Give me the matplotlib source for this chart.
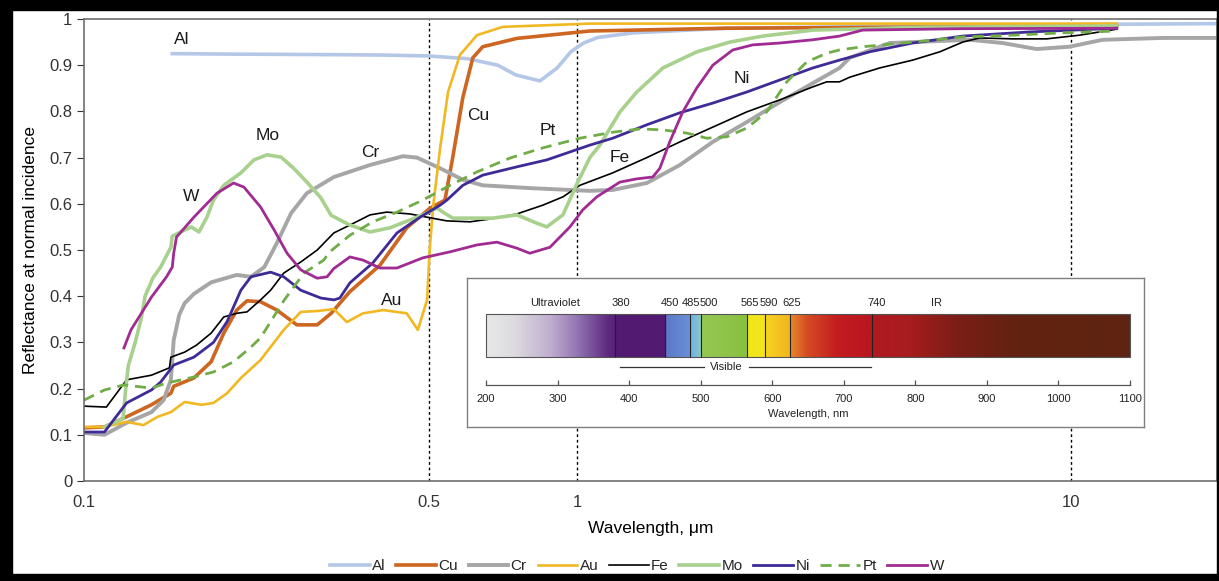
import numpy as np
import matplotlib
matplotlib.use('Agg')
import matplotlib.pyplot as plt
from matplotlib.colors import LinearSegmentedColormap
from matplotlib.patches import Rectangle

plt.rcParams['font.family'] = ['Liberation Sans', 'DejaVu Sans']

# reflectance at normal incidence vs wavelength (um)
wl_al = [0.151, 0.2, 0.3, 0.4, 0.5, 0.6, 0.69, 0.75, 0.84, 0.91, 0.97, 1.03, 1.1, 1.3, 2.0, 5.0, 10, 20]
r_al = [0.925, 0.924, 0.923, 0.922, 0.92, 0.914, 0.90, 0.879, 0.866, 0.894, 0.929, 0.948, 0.96, 0.97, 0.98, 0.985, 0.988, 0.99]

wl_cu = [0.1, 0.11, 0.122, 0.137, 0.15, 0.152, 0.167, 0.181, 0.192, 0.204, 0.214, 0.228, 0.246, 0.27, 0.297,
         0.317, 0.346, 0.398, 0.451, 0.502, 0.539, 0.559, 0.586, 0.614, 0.643, 0.754, 1.06, 2.0, 12.4]
r_cu = [0.115, 0.117, 0.139, 0.165, 0.19, 0.205, 0.223, 0.258, 0.32, 0.37, 0.39, 0.388, 0.37, 0.338, 0.338,
        0.363, 0.41, 0.467, 0.548, 0.59, 0.608, 0.70, 0.83, 0.916, 0.94, 0.958, 0.974, 0.98, 0.985]

wl_cr = [0.1, 0.11, 0.122, 0.137, 0.145, 0.15, 0.152, 0.156, 0.16, 0.167, 0.181, 0.204, 0.218, 0.232, 0.246,
         0.263, 0.283, 0.321, 0.38, 0.443, 0.473, 0.527, 0.586, 0.643, 0.801, 1.06, 1.18, 1.383, 1.614, 1.882,
         2.206, 2.573, 3.0, 3.4, 3.566, 4.297, 6.243, 7.28, 8.53, 9.95, 11.61, 15.36, 19.8]
r_cr = [0.104, 0.1, 0.126, 0.149, 0.175, 0.219, 0.305, 0.36, 0.385, 0.405, 0.43, 0.446, 0.442, 0.463, 0.515,
        0.58, 0.623, 0.658, 0.684, 0.703, 0.70, 0.677, 0.652, 0.64, 0.634, 0.628, 0.63, 0.645, 0.684, 0.734,
        0.777, 0.82, 0.861, 0.894, 0.916, 0.948, 0.955, 0.948, 0.935, 0.94, 0.955, 0.959, 0.959]

wl_au = [0.1, 0.11, 0.122, 0.132, 0.141, 0.15, 0.16, 0.173, 0.183, 0.195, 0.208, 0.228, 0.254, 0.275, 0.297,
         0.321, 0.341, 0.368, 0.404, 0.451, 0.475, 0.496, 0.502, 0.51, 0.527, 0.547, 0.578, 0.626, 0.706, 1.06, 12.4]
r_au = [0.117, 0.117, 0.128, 0.121, 0.139, 0.149, 0.171, 0.165, 0.169, 0.19, 0.223, 0.262, 0.327, 0.366, 0.368,
        0.372, 0.344, 0.363, 0.37, 0.363, 0.327, 0.392, 0.5, 0.593, 0.72, 0.842, 0.922, 0.965, 0.983, 0.99, 0.99]

wl_fe = [0.1, 0.111, 0.122, 0.137, 0.149, 0.150, 0.160, 0.169, 0.181, 0.192, 0.204, 0.214, 0.228, 0.239, 0.254,
         0.275, 0.297, 0.321, 0.346, 0.38, 0.411, 0.458, 0.496, 0.544, 0.606, 0.665, 0.754, 0.851, 0.935, 1.012,
         1.18, 1.383, 1.614, 1.882, 2.206, 2.573, 3.0, 3.203, 3.40, 3.566, 4.10, 4.784, 5.43, 6.04, 6.54, 7.63,
         8.94, 10.43, 12.4]
r_fe = [0.162, 0.16, 0.219, 0.229, 0.245, 0.268, 0.279, 0.294, 0.32, 0.355, 0.363, 0.366, 0.392, 0.413, 0.45,
        0.474, 0.5, 0.537, 0.554, 0.576, 0.582, 0.578, 0.571, 0.563, 0.561, 0.567, 0.578, 0.597, 0.615, 0.64,
        0.667, 0.70, 0.734, 0.766, 0.799, 0.825, 0.853, 0.864, 0.864, 0.874, 0.894, 0.911, 0.929, 0.95, 0.959,
        0.957, 0.957, 0.965, 0.978]

wl_mo = [0.11, 0.12, 0.1215, 0.123, 0.127, 0.1305, 0.133, 0.138, 0.143, 0.150, 0.151, 0.160, 0.165, 0.171,
         0.1775, 0.183, 0.192, 0.208, 0.221, 0.235, 0.251, 0.266, 0.283, 0.302, 0.317, 0.346, 0.38, 0.417, 0.458,
         0.496, 0.519, 0.534, 0.559, 0.614, 0.674, 0.754, 0.828, 0.867, 0.935, 0.995, 1.06, 1.111, 1.22, 1.32,
         1.491, 1.747, 2.037, 2.376, 3.0, 5.0, 12.4]
r_mo = [0.117, 0.135, 0.2, 0.25, 0.30, 0.35, 0.40, 0.44, 0.463, 0.506, 0.53, 0.543, 0.55, 0.539,
        0.571, 0.608, 0.64, 0.667, 0.695, 0.706, 0.701, 0.677, 0.647, 0.613, 0.575, 0.554, 0.539, 0.548, 0.565,
        0.58, 0.591, 0.582, 0.569, 0.569, 0.569, 0.576, 0.558, 0.55, 0.576, 0.64, 0.70, 0.727, 0.799, 0.842,
        0.894, 0.929, 0.95, 0.963, 0.976, 0.982, 0.985]

wl_ni = [0.1, 0.11, 0.122, 0.137, 0.143, 0.152, 0.167, 0.183, 0.195, 0.208, 0.218, 0.239, 0.254, 0.275, 0.302,
         0.321, 0.33, 0.346, 0.385, 0.431, 0.48, 0.527, 0.544, 0.586, 0.643, 0.754, 0.867, 1.06, 1.18, 1.383,
         1.614, 1.882, 2.206, 2.573, 3.0, 3.4, 3.914, 4.784, 6.04, 8.26, 12.4]
r_ni = [0.106, 0.106, 0.169, 0.197, 0.214, 0.251, 0.268, 0.30, 0.345, 0.413, 0.442, 0.452, 0.442, 0.413, 0.396,
        0.392, 0.396, 0.429, 0.472, 0.537, 0.571, 0.597, 0.608, 0.64, 0.662, 0.68, 0.695, 0.727, 0.742, 0.771,
        0.797, 0.818, 0.842, 0.868, 0.894, 0.911, 0.929, 0.948, 0.963, 0.972, 0.98]

wl_pt = [0.1, 0.11, 0.1205, 0.137, 0.147, 0.167, 0.183, 0.201, 0.218, 0.228, 0.239, 0.254, 0.279, 0.306, 0.315,
         0.346, 0.385, 0.431, 0.486, 0.552, 0.626, 0.73, 0.851, 1.012, 1.18, 1.339, 1.491, 1.667, 1.83, 2.009,
         2.206, 2.421, 2.658, 2.917, 3.203, 3.4, 3.79, 4.784, 6.04, 7.63, 9.63, 12.4]
r_pt = [0.175, 0.197, 0.208, 0.201, 0.212, 0.225, 0.236, 0.258, 0.29, 0.31, 0.345, 0.39, 0.45, 0.478, 0.496,
        0.532, 0.561, 0.582, 0.608, 0.64, 0.669, 0.699, 0.721, 0.742, 0.755, 0.762, 0.76, 0.753, 0.742, 0.745,
        0.764, 0.799, 0.864, 0.907, 0.926, 0.933, 0.94, 0.95, 0.961, 0.965, 0.97, 0.974]

wl_w = [0.1205, 0.1245, 0.137, 0.147, 0.151, 0.152, 0.154, 0.167, 0.186, 0.201, 0.211, 0.228, 0.243, 0.258,
        0.275, 0.297, 0.311, 0.321, 0.346, 0.368, 0.398, 0.431, 0.486, 0.552, 0.626, 0.687, 0.754, 0.801, 0.88,
        0.966, 1.026, 1.095, 1.22, 1.32, 1.422, 1.47, 1.539, 1.636, 1.747, 1.882, 2.066, 2.268, 2.573, 3.0, 3.4,
        3.79, 6.0, 12.4]
r_w = [0.288, 0.327, 0.398, 0.442, 0.463, 0.493, 0.528, 0.571, 0.623, 0.645, 0.636, 0.593, 0.543, 0.493,
       0.457, 0.439, 0.442, 0.46, 0.485, 0.478, 0.461, 0.461, 0.483, 0.496, 0.511, 0.517, 0.504, 0.493, 0.506,
       0.55, 0.587, 0.615, 0.647, 0.654, 0.658, 0.677, 0.734, 0.799, 0.851, 0.90, 0.933, 0.944, 0.948, 0.955,
       0.963, 0.976, 0.979, 0.98]

metals = ['Al', 'Cu', 'Cr', 'Au', 'Fe', 'Mo', 'Ni', 'Pt', 'W']

# curve labels inside the plot: (text, wavelength, reflectance)
curve_labels = [('Al', 0.158, 0.955), ('Mo', 0.236, 0.747), ('Cr', 0.38, 0.712), ('W', 0.165, 0.615),
                ('Cu', 0.63, 0.792), ('Pt', 0.87, 0.758), ('Fe', 1.22, 0.70), ('Ni', 2.15, 0.872),
                ('Au', 0.42, 0.39)]

# spectrum inset
band_edges = [380, 450, 485, 500, 565, 590, 625, 740]
band_text = ['380', '450', '485', '500', '565', '590', '625', '740']
nm_ticks = [200, 300, 400, 500, 600, 700, 800, 900, 1000, 1100]

fig = plt.figure(figsize=(12.19, 5.81), dpi=100)
ax = fig.add_axes([84 / 1219, 100 / 581, 1133 / 1219, 462 / 581])

series = [(wl_al, r_al, '#b4c7e7', 2.6, '-'),
          (wl_cu, r_cu, '#cc6620', 2.6, '-'),
          (wl_cr, r_cr, '#a6a6a6', 2.8, '-'),
          (wl_au, r_au, '#f0b823', 1.9, '-'),
          (wl_fe, r_fe, '#000000', 1.2, '-'),
          (wl_mo, r_mo, '#a9d18e', 2.6, '-'),
          (wl_ni, r_ni, '#3f2a96', 2.0, '-'),
          (wl_pt, r_pt, '#70ad47', 2.0, (0, (4, 2.5))),
          (wl_w, r_w, '#a02b93', 2.0, '-')]
handles = []
for (wl, r, c, lw, ls), name in zip(series, metals):
    h, = ax.plot(wl, r, color=c, lw=lw, ls=ls, label=name, solid_joinstyle='round')
    handles.append(h)

for xv in [0.5, 1, 10]:
    ax.axvline(xv, color='black', lw=1, ls=(0, (2, 2)), zorder=0.5)

for t, x, y in curve_labels:
    ax.text(x, y, t, fontsize=12.5, ha='center', va='center', color='#1a1a1a')

ax.set_xscale('log')
ax.set_xlim(0.1, 19.8)
ax.set_ylim(0, 1)
ax.set_xticks([0.1, 0.5, 1, 10])
ax.set_xticklabels(['0.1', '0.5', '1', '10'])
ax.xaxis.set_minor_locator(matplotlib.ticker.NullLocator())
yt = np.round(np.arange(0, 1.01, 0.1), 1)
ax.set_yticks(yt)
ax.set_yticklabels(['0', '0.1', '0.2', '0.3', '0.4', '0.5', '0.6', '0.7', '0.8', '0.9', '1'])
ax.tick_params(axis='x', length=0, pad=10, labelsize=12, colors='#333333')
ax.tick_params(axis='y', length=5, direction='out', labelsize=12, colors='#333333')
for sp in ax.spines.values():
    sp.set_color('#6e6e6e')
    sp.set_linewidth(1.2)
ax.set_xlabel('Wavelength, \u03bcm', fontsize=12.5, labelpad=8)
ax.set_ylabel('Reflectance at normal incidence', fontsize=12.5, labelpad=8)

# inset with the spectrum bar
ins = fig.add_axes([467 / 1219, 154 / 581, 677 / 1219, 149 / 581], zorder=5)
ins.set_facecolor('white')
ins.set_xlim(173.4, 1119.6)
ins.set_ylim(0, 149)
ins.set_xticks([])
ins.set_yticks([])
for sp in ins.spines.values():
    sp.set_color('#7f7f7f')
    sp.set_linewidth(1)

stops = [(200, '#e8e8e8'), (240, '#dddadf'), (290, '#c0aed0'), (330, '#9070b0'), (370, '#5e2a80'),
         (380, '#58207a'), (380, '#521a70'), (450, '#531b72'), (452, '#5c78c8'), (485, '#6a90d4'),
         (485, '#6cb2e4'), (500, '#8ac6c8'), (500, '#96c854'), (565, '#88c040'), (565, '#f0e41a'),
         (590, '#f4e61c'), (590, '#f6d420'), (625, '#f2b420'), (625, '#e88a2a'), (650, '#d44a24'),
         (690, '#c41c20'), (740, '#b81620'), (740, '#b01a22'), (790, '#a81c1e'), (860, '#7a1e16'),
         (940, '#62220f'), (1100, '#5f2512')]
cmap = LinearSegmentedColormap.from_list('spec', [((p - 200) / 900, c) for p, c in stops], N=1024)
grad = np.linspace(0, 1, 1024).reshape(1, -1)
ins.imshow(grad, cmap=cmap, extent=(200, 1100, 70, 113), aspect='auto', interpolation='bilinear')
ins.add_patch(Rectangle((200, 70), 900, 43, fill=False, ec='#555555', lw=0.8))
ins.vlines(band_edges, 70, 113, color='#222222', lw=0.8)

txt_x = [388, 457, 487, 512, 569, 595, 627, 746]
for t, x in zip(band_text, txt_x):
    ins.text(x, 124, t, fontsize=8, ha='center', va='center', color='#222222')
ins.text(296, 124, 'Ultraviolet', fontsize=8, ha='center', va='center', color='#222222')
ins.text(830, 124, 'IR', fontsize=8, ha='center', va='center', color='#222222')

ins.plot([387, 505], [60, 60], color='#333333', lw=0.9)
ins.plot([568, 738], [60, 60], color='#333333', lw=0.9)
ins.text(536, 60, 'Visible', fontsize=8, ha='center', va='center', color='#222222')

ins.plot([200, 1100], [42, 42], color='#555555', lw=0.9)
ins.vlines(nm_ticks, 42, 47, color='#555555', lw=0.9)
for v in nm_ticks:
    ins.text(v, 28, str(v), fontsize=8, ha='center', va='center', color='#222222')
ins.text(650, 13, 'Wavelength, nm', fontsize=8, ha='center', va='center', color='#222222')

fig.legend(handles=handles, labels=metals, loc='center', bbox_to_anchor=(637 / 1219, 15 / 581),
           ncol=9, frameon=False, handlelength=2.6, columnspacing=0.7,
           handletextpad=0.15, labelcolor='#262626', fontsize=11)

# black frame around the picture
for rect in [(0, 0, 1, 7 / 581), (0, 1 - 10 / 581, 1, 10 / 581), (0, 0, 12 / 1219, 1),
             (1 - 2 / 1219, 0, 2 / 1219, 1)]:
    fig.patches.append(Rectangle(rect[:2], rect[2], rect[3], transform=fig.transFigure,
                                 color='black', zorder=10))

fig.savefig('out.png', dpi=100)
